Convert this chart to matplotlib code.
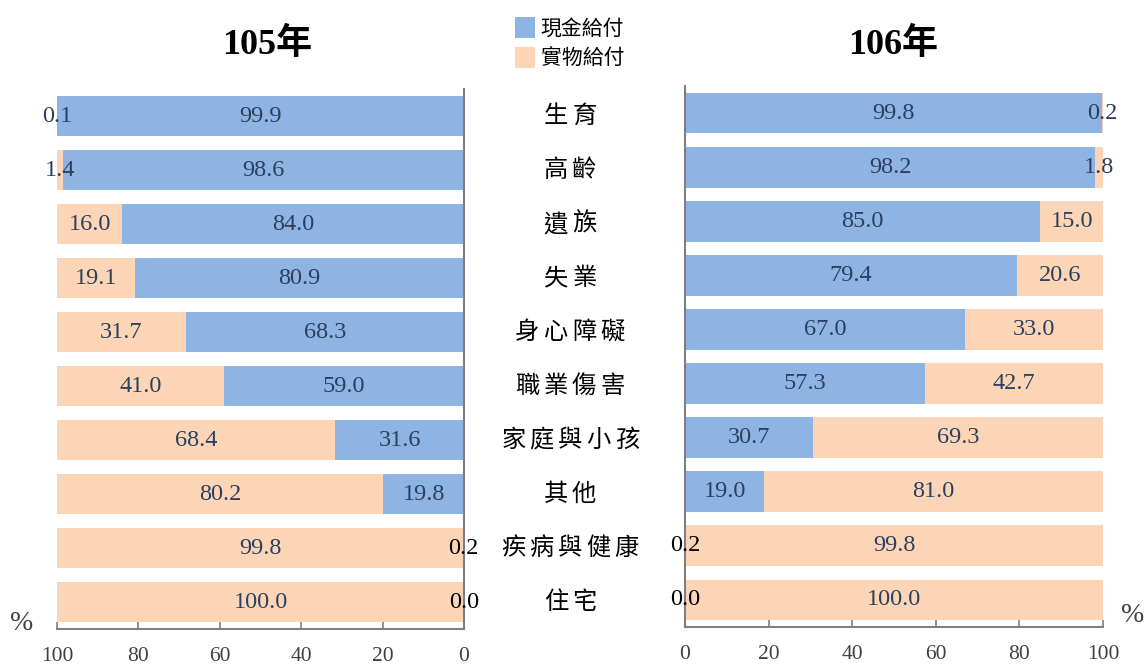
import matplotlib
matplotlib.use("Agg")
import matplotlib.pyplot as plt
import matplotlib.transforms as mtransforms
from matplotlib.patches import Patch

plt.rcParams["font.family"] = ["Liberation Serif", "Noto Sans CJK TC"]

categories = ["生育", "高齡", "遺族", "失業", "身心障礙", "職業傷害",
              "家庭與小孩", "其他", "疾病與健康", "住宅"]
cash_105 = [99.9, 98.6, 84.0, 80.9, 68.3, 59.0, 31.6, 19.8, 0.2, 0.0]
kind_105 = [0.1, 1.4, 16.0, 19.1, 31.7, 41.0, 68.4, 80.2, 99.8, 100.0]
cash_106 = [99.8, 98.2, 85.0, 79.4, 67.0, 57.3, 30.7, 19.0, 0.2, 0.0]
kind_106 = [0.2, 1.8, 15.0, 20.6, 33.0, 42.7, 69.3, 81.0, 99.8, 100.0]
ticks = [0, 20, 40, 60, 80, 100]

blue = "#8EB4E3"
peach = "#FBD5B5"
navy = "#2B3F5F"
grey = "#7F7F7F"
cjk = ["Noto Sans CJK TC", "DejaVu Sans"]

fig = plt.figure(figsize=(11.46, 6.66), dpi=100)
ax1 = fig.add_axes([57 / 1146, 1 - 629 / 666, 407 / 1146, 540 / 666])
ax2 = fig.add_axes([685 / 1146, 1 - 627 / 666, 418 / 1146, 541 / 666])

y = list(range(len(categories)))
h = 0.756


def draw(ax, cash, kind):
    ax.barh(y, cash, height=h, color=blue, left=0)
    ax.barh(y, kind, height=h, color=peach, left=cash)
    for i in y:
        c = "black" if cash[i] < 1 else navy
        ax.text(cash[i] / 2, i, "%.1f" % cash[i], ha="center", va="center",
                fontsize=17.5, color=c)
        ax.text(cash[i] + kind[i] / 2, i, "%.1f" % kind[i], ha="center",
                va="center", fontsize=17.5, color=navy)
    ax.set_xlim(0, 100)
    ax.set_ylim(9.5, -0.5)
    ax.set_yticks([])
    ax.set_xticks(ticks)
    ax.set_xticklabels([str(t) for t in ticks], fontsize=15.5, color="#404040")
    ax.tick_params(axis="x", direction="in", length=5, width=1.2,
                   color=grey, pad=13)
    for s in ["top", "left", "right", "bottom"]:
        ax.spines[s].set_color(grey)
        ax.spines[s].set_linewidth(1.5)
    ax.spines["top"].set_visible(False)


draw(ax1, cash_105, kind_105)
ax1.invert_xaxis()
ax1.spines["left"].set_visible(False)
draw(ax2, cash_106, kind_106)
ax2.spines["right"].set_visible(False)

# category labels between the two panels, spread out char by char
tr = mtransforms.blended_transform_factory(fig.transFigure, ax1.transData)
step = 28.4 / 1146
for i, name in enumerate(categories):
    n = len(name)
    for k, ch in enumerate(name):
        xc = 570 / 1146 + (k - (n - 1) / 2) * step
        fig.text(xc, i, ch, transform=tr, ha="center", va="center",
                 fontsize=17.5, family=cjk)

fig.text(267 / 1146, 1 - 45 / 666, "105年", ha="center", va="center",
         fontsize=26, fontweight="bold")
fig.text(893 / 1146, 1 - 45 / 666, "106年", ha="center", va="center",
         fontsize=26, fontweight="bold")

fig.text(22 / 1146, 1 - 623 / 666, "%", ha="center", va="center",
         fontsize=20, color="#404040")
fig.text(1133 / 1146, 1 - 616 / 666, "%", ha="center", va="center",
         fontsize=20, color="#404040")

handles = [Patch(facecolor=blue), Patch(facecolor=peach)]
leg = fig.legend(handles, ["現金給付", "實物給付"], loc="upper left",
                 bbox_to_anchor=(500 / 1146, 1 - 2 / 666), frameon=False,
                 prop={"family": cjk, "size": 15}, handlelength=1.0,
                 handleheight=1.2, handletextpad=0.25, labelspacing=0.35,
                 borderpad=0.2)

fig.savefig("out.png", dpi=100)
